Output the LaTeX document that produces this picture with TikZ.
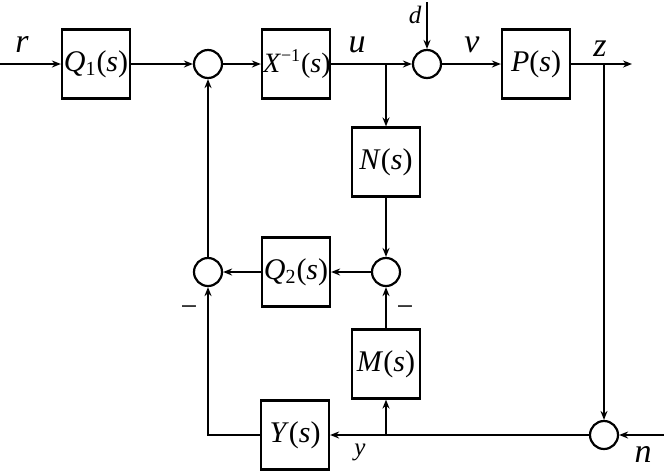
\documentclass[tikz,border=0pt]{standalone}
\usepackage{fontspec}
\setmainfont{Liberation Serif}
\usetikzlibrary{arrows.meta,positioning}

\newcommand{\vi}[1]{\textit{#1}}

\begin{document}
\begin{tikzpicture}[x=0.5pt, y=-0.5pt, line width=1.1pt,
  blk/.style={draw, minimum width=34pt, minimum height=34.5pt, inner sep=0pt, font=\fontsize{15}{17}\selectfont},
  sumc/.style={draw, circle, minimum size=14pt, inner sep=0pt},
  arr/.style={-{Stealth[length=4.5pt,width=3.5pt]}},
  lbl/.style={font=\fontsize{17}{19}\selectfont\itshape},
  slbl/.style={font=\fontsize{12.5}{14}\selectfont\itshape}]
\useasboundingbox (0,0) rectangle (664,472);

% forward path
\coordinate (rin) at (0,64);
\node[blk] (q1) at (96,64) {\vi{Q}\textsubscript{\fontsize{10}{10}\selectfont 1}(\vi{s})};
\node[sumc] (s1) at (208,64) {};
\node[blk, text width=33pt, align=center] (xinv) at (296,64) {\fontsize{14}{16}\selectfont\vi{X}\textsuperscript{\fontsize{9}{9}\selectfont −1}(\vi{s})};
\coordinate (bu) at (386,64);
\node[sumc] (s2) at (427,64) {};
\coordinate (din) at (427,2);
\node[blk] (plant) at (536,64) {\vi{P}(\vi{s})};
\coordinate (bz) at (604,64);
\coordinate (zout) at (632,64);

% inner loop
\node[blk] (nblk) at (386,162) {\vi{N}(\vi{s})};
\node[sumc] (s3) at (386,272) {};
\node[blk] (q2) at (296,272) {\vi{Q}\textsubscript{\fontsize{10}{10}\selectfont 2}(\vi{s})};
\node[sumc] (s4) at (208,272) {};
\node[blk] (mblk) at (386,364) {\vi{M}(\vi{s})};

% measurement path
\node[blk] (yblk) at (295,435) {\vi{Y}(\vi{s})};
\node[sumc] (s5) at (604,435) {};
\coordinate (nin) at (664,435);
\coordinate (by) at (386,435);
\coordinate (cy) at (208,435);

\draw[arr] (rin) -- (q1);
\draw[arr] (q1) -- (s1);
\draw[arr] (s1) -- (xinv);
\draw[arr] (xinv) -- (s2);
\draw[arr] (din) -- (s2);
\draw[arr] (s2) -- (plant);
\draw[arr] (plant) -- (zout);
\draw[arr] (bu) -- (nblk);
\draw[arr] (nblk) -- (s3);
\draw[arr] (s3) -- (q2);
\draw[arr] (q2) -- (s4);
\draw[arr] (s4) -- (s1);
\draw[arr] (mblk.south |- by) -- (mblk);
\draw[arr] (mblk) -- (s3);
\draw[arr] (bz) -- (s5);
\draw[arr] (nin) -- (s5);
\draw[arr] (s5) -- (yblk);
\draw[arr] (yblk) -- (cy) -- (s4);

% signal labels
\node[lbl] (lr) at (22,44) {r};
\node[lbl] (lu) at (357,45) {u};
\node[slbl] (ld) at (415,15) {d};
\node[lbl] (lv) at (472,45) {v};
\node[lbl] (lz) at (600,49) {z};
\node[slbl] (ly) at (360,452) {y};
\node[lbl] (ln) at (643,454) {n};
\node[font=\fontsize{15}{17}\selectfont] (m1) at (189,311) {−};
\node[font=\fontsize{15}{17}\selectfont] (m2) at (405,311) {−};
\end{tikzpicture}
\end{document}
